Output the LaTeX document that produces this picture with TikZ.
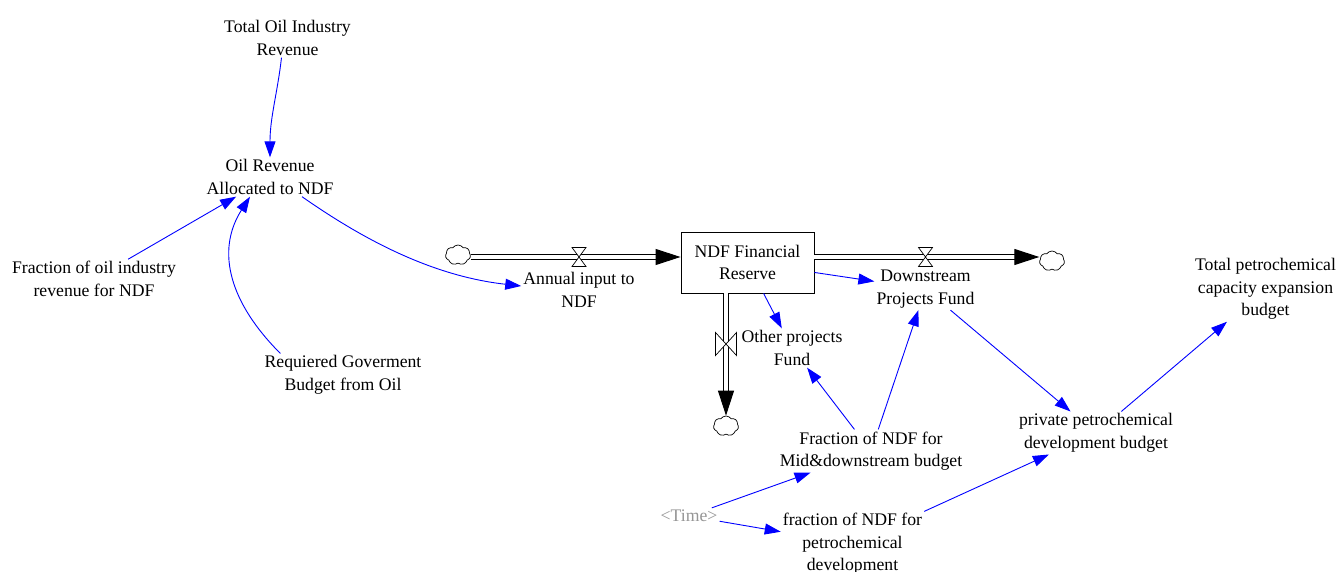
\documentclass[tikz,border=0pt]{standalone}
\usepackage{fontspec}
\setmainfont{Liberation Serif}
\usetikzlibrary{arrows.meta,shapes.symbols}
\definecolor{linkblue}{RGB}{0,0,255}
\definecolor{shadowgray}{RGB}{150,150,150}
\begin{document}
\begin{tikzpicture}[x=1pt,y=-1pt,
  lbl/.style={align=center,font=\fontsize{17.7}{22.5}\selectfont,inner sep=2pt},
  link/.style={draw=linkblue,line width=0.9pt,-{Triangle[length=16pt,width=11pt]}},
  pipe/.style={draw=black,double=white,double distance=3.2pt,line width=1pt,-{Triangle[length=25pt,width=16pt]}},
  cld/.style={cloud,cloud puffs=7,cloud puff arc=110,aspect=1.25,draw,line width=0.7pt,minimum width=25pt,minimum height=20pt,inner sep=0pt},
  stockbox/.style={draw,line width=0.9pt,fill=white,minimum width=133pt,minimum height=61pt,align=center,font=\fontsize{17.7}{22.5}\selectfont},
  hvalve/.pic={\draw[line width=0.7pt,fill=white] (-7,-9.5) -- (7,-9.5) -- (-7,9.5) -- (7,9.5) -- cycle;},
  vvalve/.pic={\draw[line width=0.7pt,fill=white] (-10.5,-11.5) -- (-10.5,11.5) -- (10.5,-11.5) -- (10.5,11.5) -- cycle;}
]
\useasboundingbox (0,0) rectangle (1339,572);
\fill[white] (0,0) rectangle (1339,572);
\coordinate (pipeY) at (0,257);

% nodes
\node[lbl] (tot) at (287.5,38) {Total Oil Industry\\Revenue};
\node[lbl] (oilrev) at (270,177) {Oil Revenue\\Allocated to NDF};
\node[lbl] (frac) at (94,279) {Fraction of oil industry\\revenue for NDF};
\node[lbl] (req) at (343,375) {Requiered Goverment\\Budget from Oil};
\node[lbl] (annual) at (579,290) {Annual input to\\NDF};
\node[stockbox] (stock) at (747.5,262.5) {NDF Financial\\Reserve};
\node[lbl] (down) at (925.5,289) {Downstream\\Projects Fund};
\node[lbl] (other) at (792,348) {Other projects\\Fund};
\node[lbl] (fmid) at (871,451) {Fraction of NDF for\\Mid\&downstream budget};
\node[lbl] (priv) at (1096,433) {private petrochemical\\development budget};
\node[lbl] (tpet) at (1265.5,289) {Total petrochemical\\capacity expansion\\budget};
\node[lbl,text=shadowgray] (time) at (689,516) {\textless{}Time\textgreater{}};
\node[lbl] (fpet) at (852.5,544) {fraction of NDF for\\petrochemical\\development};

% clouds
\node[cld] (cl1) at (458,255) {};
\node[cld] (cl2) at (1052,261) {};
\node[cld] (cl3) at (726,426) {};

% pipes
\draw[pipe] (cl1.east |- pipeY) -- (stock.west |- pipeY);
\draw[pipe] (stock.east |- pipeY) -- (cl2.west |- pipeY);
\draw[pipe] (stock.south -| cl3) -- (cl3.north);

% valves
\pic at (annual |- pipeY) {hvalve};
\pic at (down |- pipeY) {hvalve};
\pic at (726,344) {vvalve};

% links
\draw[link] ([xshift=-6pt]tot.south) .. controls +(-4,35) and +(0,-40) .. (oilrev.north);
\draw[link] (frac) -- (oilrev);
\draw[link] ([xshift=18pt]req.north west) .. controls +(-50,-50) and +(-35,55) .. ([xshift=-20pt]oilrev.south);
\draw[link] ([xshift=32pt]oilrev.south) .. controls +(60,42) and +(-90,-10) .. ([yshift=4pt]annual.west);
\draw[link] (stock) -- (down);
\draw[link] (stock) -- (other);
\draw[link] (fmid) -- (other);
\draw[link] (fmid) -- (down);
\draw[link] (down) -- (priv);
\draw[link] (priv) -- (tpet);
\draw[link] (time) -- (fmid);
\draw[link] (time) -- (fpet);
\draw[link] (fpet) -- (priv);
\end{tikzpicture}
\end{document}
